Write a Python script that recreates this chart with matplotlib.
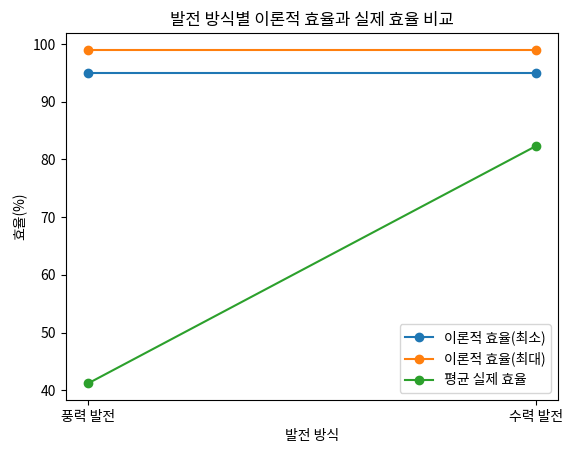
import matplotlib
matplotlib.use("Agg")
import matplotlib.pyplot as plt

plt.rcParams['font.family'] = ['Noto Sans CJK KR', 'DejaVu Sans']

categories = ['풍력 발전', '수력 발전']
theory_min = [95, 95]
theory_max = [99, 99]
actual_avg = [41.2, 82.3]

fig, ax = plt.subplots(figsize=(5.73, 4.54), dpi=100)
ax.plot(categories, theory_min, marker='o', label='이론적 효율(최소)')
ax.plot(categories, theory_max, marker='o', label='이론적 효율(최대)')
ax.plot(categories, actual_avg, marker='o', label='평균 실제 효율')
ax.set_title('발전 방식별 이론적 효율과 실제 효율 비교')
ax.set_xlabel('발전 방식')
ax.set_ylabel('효율(%)')
ax.legend(loc='lower right')
fig.subplots_adjust(left=0.115, right=0.974, top=0.927, bottom=0.119)
fig.savefig('out.png')
